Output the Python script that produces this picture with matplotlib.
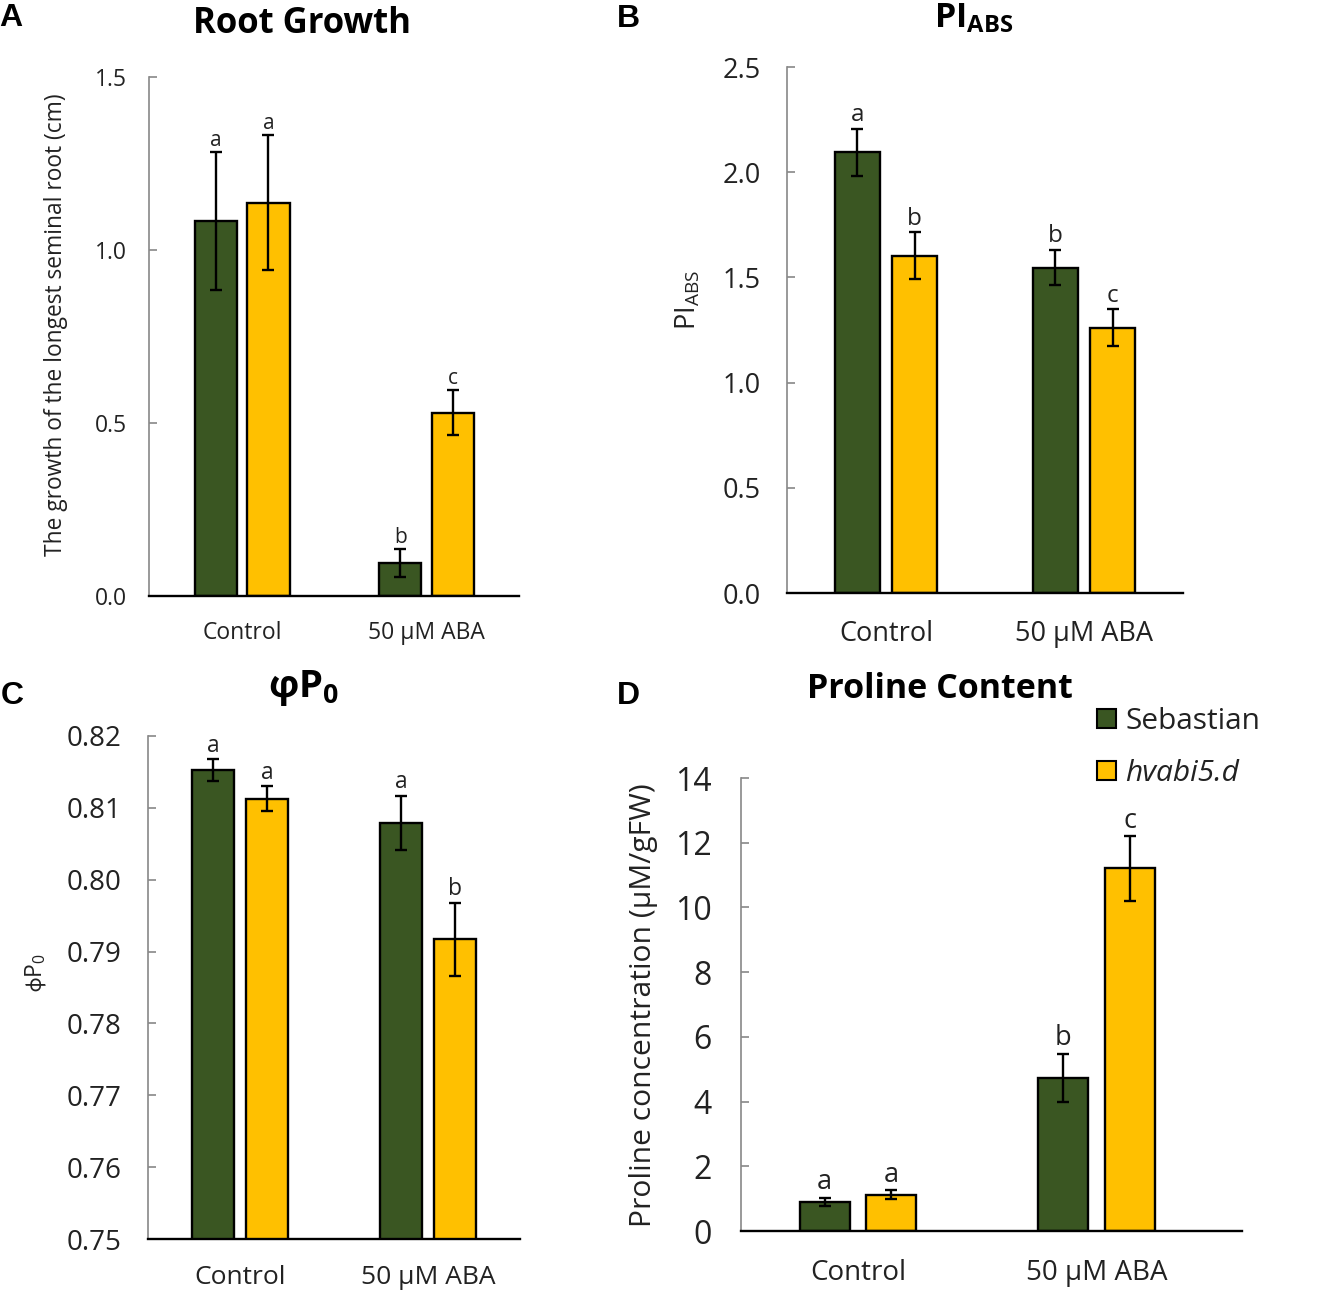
import matplotlib
matplotlib.use("Agg")
import matplotlib.pyplot as plt
from matplotlib.patches import Patch
import numpy as np

plt.rcParams['font.family'] = ['Open Sans', 'DejaVu Sans']
plt.rcParams['mathtext.fontset'] = 'custom'
plt.rcParams['mathtext.rm'] = 'Open Sans'
plt.rcParams['mathtext.bf'] = 'Open Sans:bold'
plt.rcParams['mathtext.it'] = 'Open Sans:italic'
plt.rcParams['mathtext.fallback'] = 'stixsans'

# ---------------- data ----------------
categories = ['Control', '50 μM ABA']
series_names = ['Sebastian', 'hvabi5.d']

root_seb = [1.083, 0.096]
root_seb_err = [0.200, 0.040]
root_hv = [1.136, 0.530]
root_hv_err = [0.195, 0.064]
root_letters_seb = ['a', 'b']
root_letters_hv = ['a', 'c']

pi_seb = [2.095, 1.547]
pi_seb_err = [0.112, 0.085]
pi_hv = [1.604, 1.261]
pi_hv_err = [0.112, 0.087]
pi_letters_seb = ['a', 'b']
pi_letters_hv = ['b', 'c']

phi_seb = [0.8153, 0.8079]
phi_seb_err = [0.0015, 0.0038]
phi_hv = [0.8113, 0.7917]
phi_hv_err = [0.0017, 0.0051]
phi_letters_seb = ['a', 'a']
phi_letters_hv = ['a', 'b']

pro_seb = [0.90, 4.73]
pro_seb_err = [0.13, 0.75]
pro_hv = [1.12, 11.21]
pro_hv_err = [0.14, 1.00]
pro_letters_seb = ['a', 'b']
pro_letters_hv = ['a', 'c']

root_ticks = [0.0, 0.5, 1.0, 1.5]
pi_ticks = [0.0, 0.5, 1.0, 1.5, 2.0, 2.5]
phi_ticks = [0.75, 0.76, 0.77, 0.78, 0.79, 0.80, 0.81, 0.82]
pro_ticks = [0, 2, 4, 6, 8, 10, 12, 14]

GREEN = '#3a5622'
YELLOW = '#ffc000'
TXT = '#222222'

W, H = 1319, 1298
fig = plt.figure(figsize=(W / 100, H / 100), dpi=100)


def px_axes(l, t, r, b):
    return fig.add_axes([l / W, 1 - b / H, (r - l) / W, (b - t) / H])


def panel(ax, seb, seb_err, hv, hv_err, let_seb, let_hv, ticks, fmt,
          xlim, width, off, tick_fs, cat_fs, let_fs, ypad, xpad, let_off):
    x = np.arange(len(categories))
    ax.bar(x - off, seb, width, color=GREEN, edgecolor='black', linewidth=1.7, zorder=2)
    ax.bar(x + off, hv, width, color=YELLOW, edgecolor='black', linewidth=1.7, zorder=2)
    ax.errorbar(x - off, seb, yerr=seb_err, fmt='none', ecolor='black',
                elinewidth=1.7, capsize=4.5, capthick=1.7, zorder=3)
    ax.errorbar(x + off, hv, yerr=hv_err, fmt='none', ecolor='black',
                elinewidth=1.7, capsize=4.5, capthick=1.7, zorder=3)
    for xi, v, e, l in zip(x - off, seb, seb_err, let_seb):
        ax.annotate(l, (xi, v + e), xytext=(0, let_off), textcoords='offset points',
                    ha='center', va='bottom', fontsize=let_fs, color=TXT)
    for xi, v, e, l in zip(x + off, hv, hv_err, let_hv):
        ax.annotate(l, (xi, v + e), xytext=(0, let_off), textcoords='offset points',
                    ha='center', va='bottom', fontsize=let_fs, color=TXT)
    ax.set_xlim(*xlim)
    ax.set_ylim(ticks[0], ticks[-1])
    ax.set_yticks(ticks)
    ax.set_yticklabels([fmt.format(t) for t in ticks], fontsize=tick_fs, color=TXT)
    ax.set_xticks(x)
    ax.set_xticklabels(categories, fontsize=cat_fs, color=TXT)
    ax.tick_params(axis='x', length=0, pad=xpad)
    ax.tick_params(axis='y', direction='in', length=6, width=1.2, color='#888888', pad=ypad)
    for s in ['top', 'right']:
        ax.spines[s].set_visible(False)
    ax.spines['left'].set_color('#888888')
    ax.spines['left'].set_linewidth(1.2)
    ax.spines['bottom'].set_color('black')
    ax.spines['bottom'].set_linewidth(1.7)


# Panel A
axA = px_axes(149, 77, 519, 596)
panel(axA, root_seb, root_seb_err, root_hv, root_hv_err, root_letters_seb, root_letters_hv,
      root_ticks, '{:.1f}', (-0.504, 1.5), 0.228, 0.143, 16.5, 16.5, 15, 16, 18, 1)
# Panel B
axB = px_axes(787, 67, 1183, 593)
panel(axB, pi_seb, pi_seb_err, pi_hv, pi_hv_err, pi_letters_seb, pi_letters_hv,
      pi_ticks, '{:.1f}', (-0.5, 1.5), 0.232, 0.144, 19.5, 19.5, 17.5, 19, 19.5, 1)
# Panel C
axC = px_axes(148, 736, 520, 1239)
panel(axC, phi_seb, phi_seb_err, phi_hv, phi_hv_err, phi_letters_seb, phi_letters_hv,
      phi_ticks, '{:.2f}', (-0.49, 1.49), 0.224, 0.144, 20, 19, 16.5, 19, 19, 1)
# Panel D
axD = px_axes(741, 778, 1242, 1231)
panel(axD, pro_seb, pro_seb_err, pro_hv, pro_hv_err, pro_letters_seb, pro_letters_hv,
      pro_ticks, '{:d}', (-0.49, 1.61), 0.21, 0.139, 23, 20, 19.5, 21, 20.5, 1)

# Titles and panel letters
def ftext(xp, yp, s, **kw):
    fig.text(xp / W, 1 - yp / H, s, **kw)

ftext(302, 24, 'Root Growth', ha='center', va='center', fontsize=25, fontweight='bold')
ftext(974, 18, r'$\mathbf{PI}_{\mathbf{ABS}}$', ha='center', va='center', fontsize=24.5)
ftext(304, 688, r'$\mathbf{φP}_{\mathbf{0}}$', ha='center', va='center', fontsize=27.5)
ftext(940, 689, 'Proline Content', ha='center', va='center', fontsize=24.5, fontweight='bold')

for xp, yp, s in [(11, 18, 'A'), (628, 19, 'B'), (12, 696, 'C'), (628, 696, 'D')]:
    ftext(xp, yp, s, ha='center', va='center', fontsize=23, fontweight='bold',
          family='Liberation Sans')

# y labels
ftext(56, 325, 'The growth of the longest seminal root (cm)', rotation=90,
      ha='center', va='center', fontsize=16.4, color=TXT)
ftext(688, 300, r'PI$_{\mathrm{ABS}}$', rotation=90,
      ha='center', va='center', fontsize=19.5, color=TXT)
ftext(36, 973, r'$\mathrm{ϕ}$P$_{\mathrm{0}}$', rotation=90,
      ha='center', va='center', fontsize=16.5, color=TXT)
ftext(643, 1005, 'Proline concentration (μM/gFW)', rotation=90,
      ha='center', va='center', fontsize=21.6, color=TXT)

# Legend
handles = [Patch(facecolor=GREEN, edgecolor='black', linewidth=1.5),
           Patch(facecolor=YELLOW, edgecolor='black', linewidth=1.5)]
leg = fig.legend(handles, series_names, loc='upper left',
                 bbox_to_anchor=(1097 / W, 1 - 707 / H), frameon=False,
                 borderpad=0, borderaxespad=0,
                 fontsize=21.5, handlelength=0.62, handleheight=0.62,
                 handletextpad=0.33, labelspacing=0.78)
leg.get_texts()[1].set_fontstyle('italic')
for t in leg.get_texts():
    t.set_color(TXT)

fig.savefig('out.png', dpi=100)
